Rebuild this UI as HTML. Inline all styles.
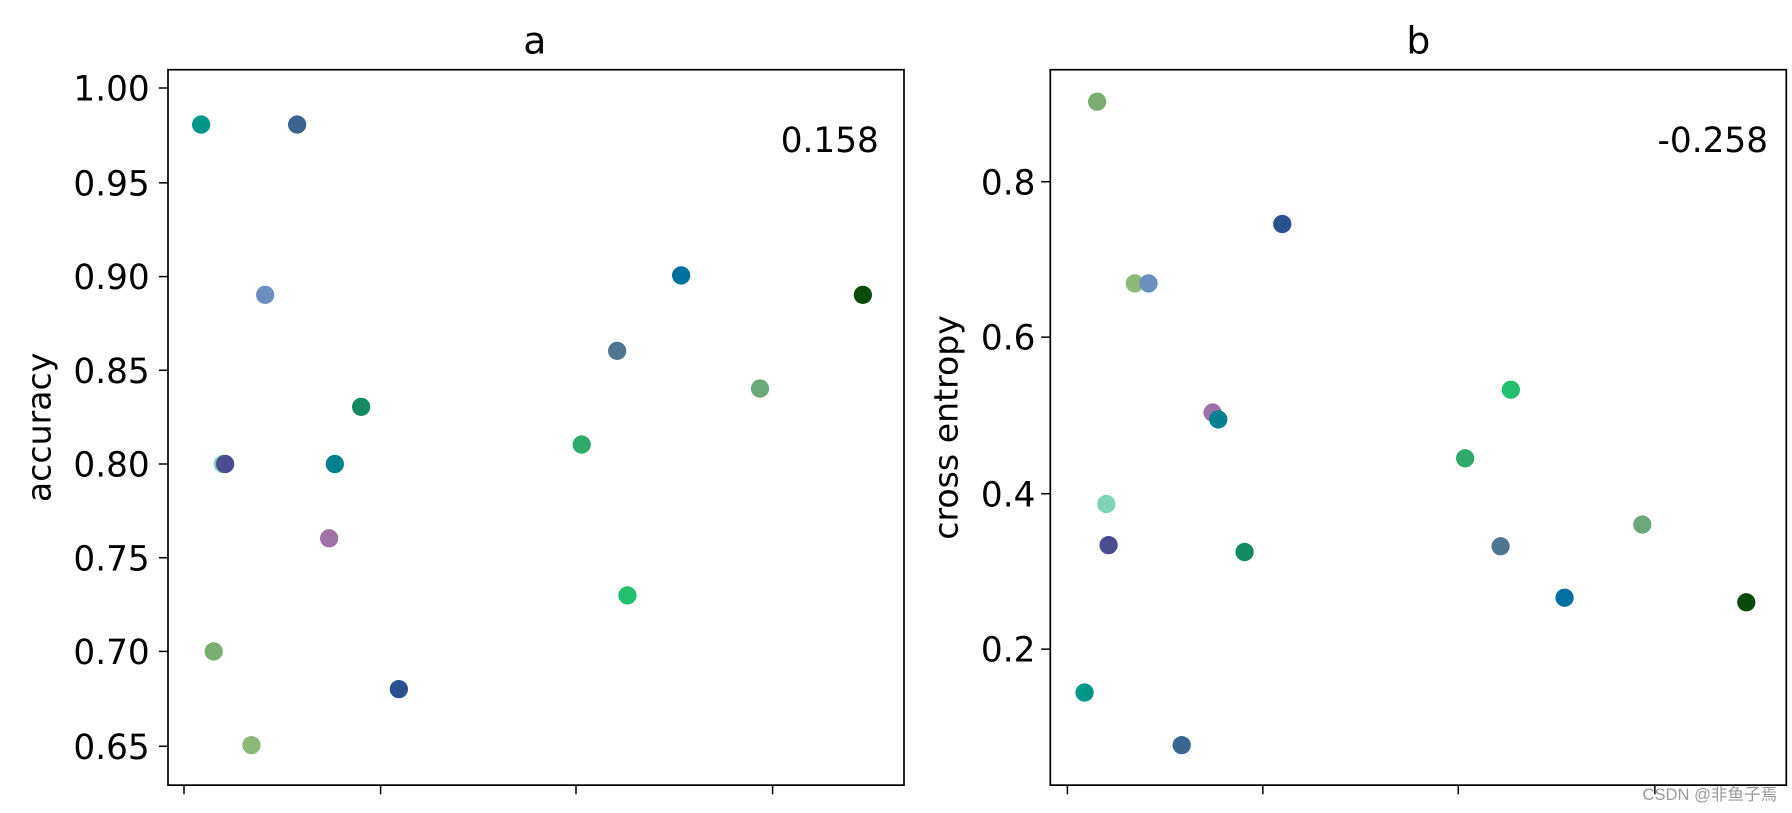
<!DOCTYPE html>
<html><head><meta charset="utf-8"><style>html,body{margin:0;padding:0;background:#fff}svg{display:block}</style></head>
<body>
<svg width="1792" height="813" viewBox="0 0 1568 711.375" preserveAspectRatio="none" xmlns="http://www.w3.org/2000/svg" font-family="'DejaVu Sans','Liberation Sans',sans-serif">
<rect width="1568" height="712" fill="#fff"/>
<g fill="none" stroke="#000" stroke-width="1.5">
<rect x="147" y="61" width="644" height="626"/>
<rect x="919" y="61" width="644" height="626"/>
</g>
<g stroke="#000" stroke-width="1.3">
<line x1="139" y1="77" x2="147" y2="77"/><line x1="139" y1="160" x2="147" y2="160"/><line x1="139" y1="242" x2="147" y2="242"/><line x1="139" y1="324" x2="147" y2="324"/><line x1="139" y1="406" x2="147" y2="406"/><line x1="139" y1="488" x2="147" y2="488"/><line x1="139" y1="570" x2="147" y2="570"/><line x1="139" y1="653" x2="147" y2="653"/>
<line x1="911" y1="159" x2="919" y2="159"/><line x1="911" y1="295" x2="919" y2="295"/><line x1="911" y1="432" x2="919" y2="432"/><line x1="911" y1="568" x2="919" y2="568"/>
<line x1="161" y1="687" x2="161" y2="695"/><line x1="333" y1="687" x2="333" y2="695"/><line x1="504" y1="687" x2="504" y2="695"/><line x1="676" y1="687" x2="676" y2="695"/>
<line x1="934" y1="687" x2="934" y2="695"/><line x1="1105" y1="687" x2="1105" y2="695"/><line x1="1276" y1="687" x2="1276" y2="695"/><line x1="1448" y1="687" x2="1448" y2="695"/>
</g>
<g font-size="30" text-anchor="end" fill="#000">
<text x="131" y="88">1.00</text><text x="131" y="171">0.95</text><text x="131" y="253">0.90</text><text x="131" y="335">0.85</text><text x="131" y="417">0.80</text><text x="131" y="499">0.75</text><text x="131" y="581">0.70</text><text x="131" y="664">0.65</text>
<text x="906" y="170">0.8</text><text x="906" y="306">0.6</text><text x="906" y="443">0.4</text><text x="906" y="579">0.2</text>
<text x="769" y="133">0.158</text><text x="1547" y="133">-0.258</text>
</g>
<g font-size="33" text-anchor="middle">
<text x="468" y="47">a</text><text x="1241" y="47">b</text>
</g>
<text font-size="29" text-anchor="middle" transform="translate(44,374) rotate(-90)">accuracy</text>
<text font-size="29" text-anchor="middle" transform="translate(838,374) rotate(-90)">cross entropy</text>
<g>
<circle cx="176" cy="109" r="8" fill="#009688"/><circle cx="260" cy="109" r="8" fill="#3a6590"/><circle cx="232" cy="258" r="8" fill="#6b8fbf"/><circle cx="596" cy="241" r="8" fill="#0070a0"/><circle cx="755" cy="258" r="8" fill="#0a4a0a"/><circle cx="540" cy="307" r="8" fill="#4f7590"/><circle cx="665" cy="340" r="8" fill="#6aa878"/><circle cx="316" cy="356" r="8" fill="#138a60"/><circle cx="509" cy="389" r="8" fill="#2eaa6a"/><circle cx="195" cy="406" r="8" fill="#7fd4b8"/><circle cx="197" cy="406" r="8" fill="#4b4d8f"/><circle cx="293" cy="406" r="8" fill="#008090"/><circle cx="288" cy="471" r="8" fill="#a070a8"/><circle cx="549" cy="521" r="8" fill="#20c070"/><circle cx="187" cy="570" r="8" fill="#7aad70"/><circle cx="349" cy="603" r="8" fill="#2a5090"/><circle cx="220" cy="652" r="8" fill="#8db878"/>
<circle cx="960" cy="89" r="8" fill="#7aad70"/><circle cx="1122" cy="196" r="8" fill="#2a5090"/><circle cx="993" cy="248" r="8" fill="#8db878"/><circle cx="1005" cy="248" r="8" fill="#6b8fbf"/><circle cx="1061" cy="361" r="8" fill="#a070a8"/><circle cx="1066" cy="367" r="8" fill="#008090"/><circle cx="1322" cy="341" r="8" fill="#20c070"/><circle cx="1282" cy="401" r="8" fill="#2eaa6a"/><circle cx="968" cy="441" r="8" fill="#7fd4b8"/><circle cx="970" cy="477" r="8" fill="#4b4d8f"/><circle cx="1089" cy="483" r="8" fill="#138a60"/><circle cx="1313" cy="478" r="8" fill="#4f7590"/><circle cx="1437" cy="459" r="8" fill="#6aa878"/><circle cx="1369" cy="523" r="8" fill="#0070a0"/><circle cx="1528" cy="527" r="8" fill="#0a4a0a"/><circle cx="949" cy="606" r="8" fill="#009688"/><circle cx="1034" cy="652" r="8" fill="#3a6590"/>
</g>
<text x="1555" y="700" font-size="14.5" text-anchor="end" fill="#999" font-family="'Liberation Sans','Noto Sans CJK SC',sans-serif">CSDN @非鱼子焉</text>
</svg>
</body></html>
